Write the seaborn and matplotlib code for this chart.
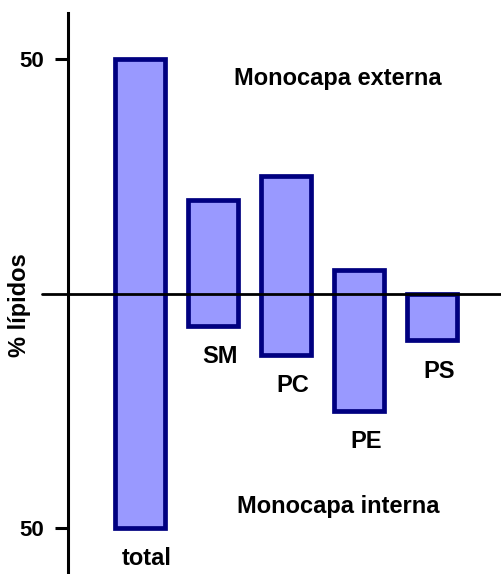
import matplotlib
matplotlib.use('agg')
from matplotlib import pyplot as plt
import numpy as np
import pandas as pd
import seaborn as sns

# lipid asymmetry of the membrane, % of each lipid in each leaflet
lipids = ['total', 'SM', 'PC', 'PE', 'PS']
externa = [50, 20, 25, 5, 0]
interna = [-50, -7, -13, -25, -10]
yticks = [-50, 50]
yticklabels = ['50', '50']

df = pd.DataFrame({'lipid': lipids, 'top': externa, 'low': interna})
df['height'] = df['top'] - df['low']

sns.set_theme(style='white')
plt.rcParams['font.family'] = ['Liberation Sans', 'DejaVu Sans']
plt.rcParams['font.weight'] = 'bold'
plt.rcParams['text.color'] = 'black'
plt.rcParams['ytick.color'] = 'black'
plt.rcParams['ytick.labelcolor'] = 'black'

fig = plt.figure(figsize=(5.01, 5.74), dpi=100)
ax = fig.add_axes([68/501, 0, 433/501, 561/574])

sns.barplot(data=df, x='lipid', y='height', bottom=df['low'].to_numpy(),
            errorbar=None, width=0.68, color='#9999ff', saturation=1,
            edgecolor='#000080', linewidth=3.4, ax=ax)

ax.axhline(0, xmin=-0.06, xmax=1, color='black', lw=2, zorder=5, clip_on=False)

ax.set_xlim(-0.99, 4.95)
ax.set_ylim(-59.7, 59.7)
ax.set_xlabel('')
ax.set_ylabel('')
ax.set_xticks([])
ax.set_yticks(yticks)
ax.set_yticklabels(yticklabels, fontsize=16, fontweight='bold', color='black')
ax.tick_params(axis='y', direction='out', length=9.4, width=2.2, pad=8, color='black', left=True)
for s in ['top', 'right', 'bottom']:
    ax.spines[s].set_visible(False)
ax.spines['left'].set_linewidth(2.2)
ax.spines['left'].set_color('black')

for i, row in df.iterrows():
    ax.annotate(row['lipid'], (i, row['low']), xytext=(5, -22), textcoords='offset points',
                ha='center', va='center', fontsize=17, fontweight='bold', color='black')

ax.text(2.71, 45.8, 'Monocapa externa', ha='center', va='center', fontsize=17,
        fontweight='bold', color='black')
ax.text(2.72, -45.4, 'Monocapa interna', ha='center', va='center', fontsize=17,
        fontweight='bold', color='black')

fig.text(20/501, 1 - 305/574, '% lípidos', rotation=90, ha='center', va='center',
         fontsize=17, fontweight='bold', color='black')

fig.savefig('out.png', dpi=100)
plt.close()
